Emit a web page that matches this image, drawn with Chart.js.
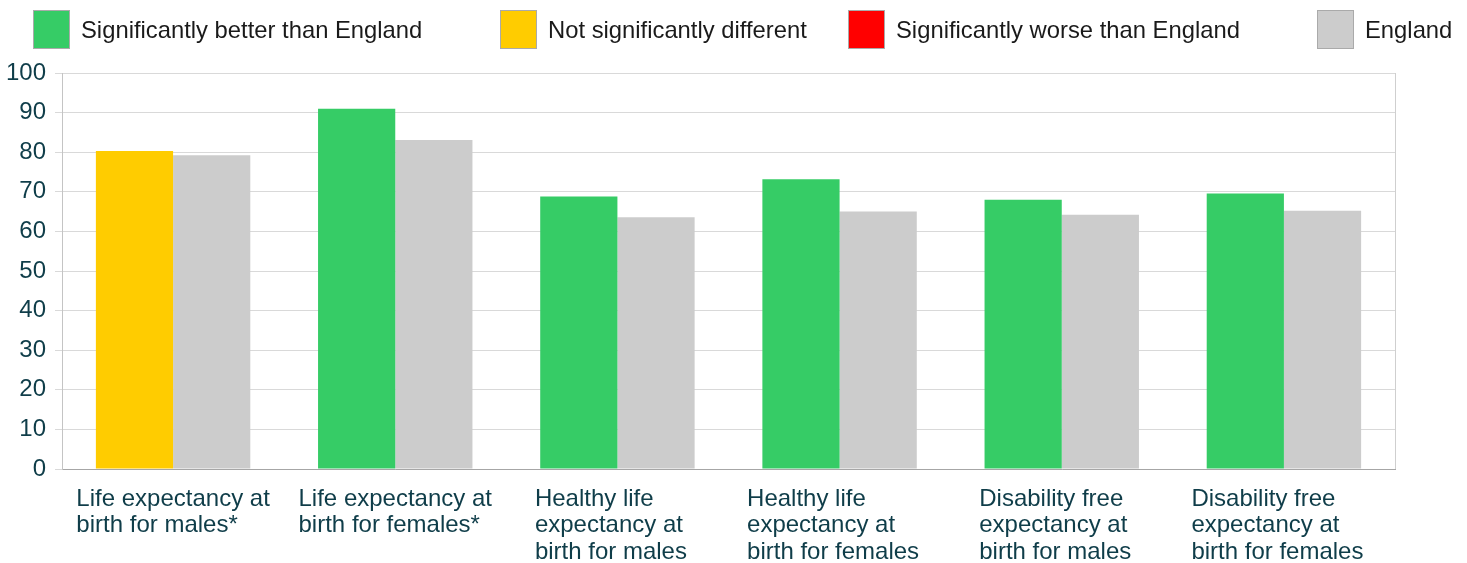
<!DOCTYPE html>
<html>
<head>
<meta charset="utf-8">
<script src="https://cdn.jsdelivr.net/npm/chart.js@4"></script>
<style>
body { margin: 0; background: #fff; font-family: "Liberation Sans", Arial, sans-serif; }
#wrap { position: relative; width: 1467px; height: 563px; }
#chart { position: absolute; left: 0; top: 0; }
.item { position: absolute; top: 10px; height: 39px; display: flex; align-items: center; font-size: 23.8px; color: #1a1a1a; white-space: nowrap; }
.item:nth-child(1) { left: 33px; }
.item:nth-child(2) { left: 500px; }
.item:nth-child(3) { left: 848px; }
.item:nth-child(4) { left: 1317px; }
.box { width: 35px; height: 37px; border: 1px solid #aaa; margin-right: 11px; }
</style>
</head>
<body>
<div id="wrap">
  <canvas id="chart" width="1467" height="563"></canvas>
  <div id="legend"></div>
</div>
<script>
const categories = [
    ['Life expectancy at', 'birth for males*'],
    ['Life expectancy at', 'birth for females*'],
    ['Healthy life', 'expectancy at', 'birth for males'],
    ['Healthy life', 'expectancy at', 'birth for females'],
    ['Disability free', 'expectancy at', 'birth for males'],
    ['Disability free', 'expectancy at', 'birth for females']
];
const areaValues = [80.3, 91.0, 68.8, 73.2, 68.0, 69.6];
const englandValues = [79.2, 83.1, 63.6, 65.0, 64.2, 65.2];
const significance = ['similar', 'better', 'better', 'better', 'better', 'better'];

const legendNames = ['Significantly better than England', 'Not significantly different', 'Significantly worse than England', 'England'];
const legendColours = ['#36CC66', '#FFCC00', '#FF0000', '#CCCCCC'];
const sigColours = { better: '#36CC66', similar: '#FFCC00', worse: '#FF0000' };
const englandColour = '#CCCCCC';
const textColour = '#0f3d49';

// html legend
let legend = document.getElementById('legend');
legendNames.forEach((name, i) => {
    let item = document.createElement('div');
    item.className = 'item';
    item.innerHTML = `<span class="box" style="background:${legendColours[i]}"></span>${name}`;
    legend.appendChild(item);
});

// multi line labels, left aligned, block centred on the category
const xLabels = {
    id: 'xLabels',
    afterDraw(chart) {
        let ctx = chart.ctx;
        let x = chart.scales.x;
        let area = chart.chartArea;
        ctx.save();
        // right border of the plot
        ctx.strokeStyle = '#cfcfcf';
        ctx.lineWidth = 1;
        ctx.beginPath();
        ctx.moveTo(Math.round(area.right) + 0.5, area.top);
        ctx.lineTo(Math.round(area.right) + 0.5, area.bottom);
        ctx.stroke();

        ctx.font = '24px "Liberation Sans", Arial, sans-serif';
        ctx.fillStyle = textColour;
        ctx.textBaseline = 'middle';
        ctx.textAlign = 'left';
        categories.forEach((lines, i) => {
            let w = Math.max(...lines.map(l => ctx.measureText(l).width));
            if (lines.length > 2) w += 13; // wrapped labels sit a bit further left
            let left = x.getPixelForValue(i) - w / 2;
            lines.forEach((l, j) => ctx.fillText(l, left, area.bottom + 30 + j * 26.5));
        });
        ctx.restore();
    }
};

new Chart(document.getElementById('chart'), {
    type: 'bar',
    data: {
        labels: categories.map(c => c.join(' ')),
        datasets: [{
            label: 'Area',
            data: areaValues,
            backgroundColor: significance.map(s => sigColours[s]),
            borderWidth: 0
        }, {
            label: 'England',
            data: englandValues,
            backgroundColor: englandColour,
            borderWidth: 0
        }]
    },
    options: {
        responsive: false,
        animation: false,
        devicePixelRatio: 1,
        layout: { padding: { top: 73, right: 72, left: 0, bottom: 0 } },
        plugins: { legend: { display: false }, tooltip: { enabled: false } },
        datasets: { bar: { categoryPercentage: 0.695, barPercentage: 1 } },
        scales: {
            x: {
                grid: { display: false },
                border: { display: true, color: '#a6a6a6', width: 1 },
                ticks: { display: false },
                afterFit: s => { s.height = 94; }
            },
            y: {
                min: 0,
                max: 100,
                ticks: { stepSize: 10, color: textColour, padding: 9, font: { family: '"Liberation Sans", Arial, sans-serif', size: 24 } },
                grid: { color: '#d9d9d9', tickLength: 7 },
                border: { display: true, color: '#c4c4c4' },
                afterFit: s => { s.width = 62; }
            }
        }
    },
    plugins: [xLabels]
});
</script>
</body>
</html>
